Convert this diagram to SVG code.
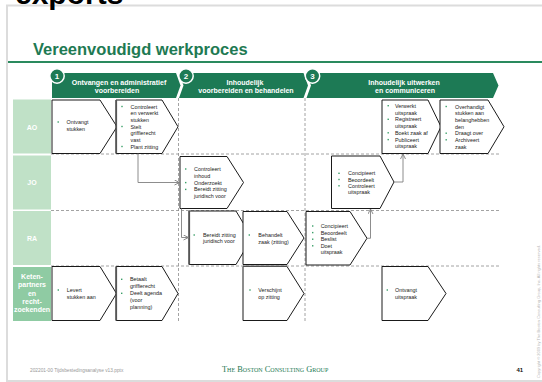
<svg xmlns="http://www.w3.org/2000/svg" width="542" height="382" viewBox="0 0 542 382">
<style>
.box{fill:#fff;stroke:#1a1a1a;stroke-width:1}
.t{font-family:"Liberation Sans",Arial,sans-serif;font-size:5.4px;fill:#222}
.b{fill:#3a9f68}
.hdr{fill:#1d7a55}
.ht{font-family:"Liberation Sans",Arial,sans-serif;font-size:7px;font-weight:bold;fill:#fff;text-anchor:middle}
.lbl{fill:#c0e1c7}
.lt{font-family:"Liberation Sans",Arial,sans-serif;font-size:7px;font-weight:bold;fill:#fff;text-anchor:middle}
.dash{stroke:#8c8c8c;stroke-width:0.8;stroke-dasharray:3 2;fill:none}
.conn{stroke:#808080;stroke-width:0.9;fill:none;marker-end:url(#arr)}
.num{font-family:"Liberation Sans",Arial,sans-serif;font-size:8px;font-weight:bold;fill:#fff;text-anchor:middle}
</style>
<defs>
<marker id="arr" markerUnits="userSpaceOnUse" markerWidth="7" markerHeight="7" refX="5.5" refY="3" orient="auto">
<path d="M0.5,0.5 L5.5,3 L0.5,5.5" fill="none" stroke="#808080" stroke-width="0.9"/>
</marker>
</defs>
<rect width="542" height="382" fill="#fff"/>
<!-- slide frame -->
<path d="M7,382 V5.5 H542 M7,381 H542" fill="none" stroke="#dcdcdc" stroke-width="2"/>
<text x="15" y="4" font-family="Liberation Sans,Arial,sans-serif" font-size="30" font-weight="bold" fill="#000">exports</text>
<text x="33" y="55" font-family="Liberation Sans,Arial,sans-serif" font-size="16.5" font-weight="bold" fill="#1e7a53">Vereenvoudigd werkproces</text>
<rect x="8" y="61" width="534" height="2" fill="#2a8a5e"/>

<!-- lane labels -->
<g id="lane-ao"><rect class="lbl" x="13" y="99.5" width="38" height="54"/><text class="lt" x="32" y="129.5">AO</text></g>
<g id="lane-jo"><rect class="lbl" x="13" y="155.5" width="38" height="54"/><text class="lt" x="32" y="185">JO</text></g>
<g id="lane-ra"><rect class="lbl" x="13" y="211" width="38" height="54"/><text class="lt" x="32" y="240.5">RA</text></g>
<g id="lane-keten"><rect x="13" y="267" width="38" height="54" fill="#8fcba3"/>
<text class="lt"><tspan x="32" y="279">Keten-</tspan><tspan x="32" y="287.3">partners</tspan><tspan x="32" y="295.6">en</tspan><tspan x="32" y="303.9">recht-</tspan><tspan x="32" y="312.2">zoekenden</tspan></text></g>

<!-- grid -->
<g id="grid">
<path class="dash" d="M51,154 H500 M51,210.5 H500 M51,266 H500"/>
<path class="dash" d="M178.5,98 V322 M305,98 V322"/>
</g>

<!-- AO row -->
<g id="a1"><polygon class="box" points="52,100 100,100 117,126.75 100,153.5 52,153.5"/>
<rect class="b" x="57.5" y="121.3" width="1.4" height="1.4"/>
<text class="t"><tspan x="66.5" y="124">Ontvangt</tspan><tspan x="66.5" y="131">stukken</tspan></text></g>
<g id="a2"><polygon class="box" points="116,100 162,100 178,126.75 162,153.5 116,153.5"/>
<path d="M116.3,100 V153.5" stroke="#555" stroke-width="1.6"/>
<rect class="b" x="121.3" y="105.8" width="1.4" height="1.4"/><rect class="b" x="121.3" y="125.8" width="1.4" height="1.4"/><rect class="b" x="121.3" y="145.8" width="1.4" height="1.4"/>
<text class="t"><tspan x="130.5" y="108.5">Controleert</tspan><tspan x="130.5" y="115.2">en verwerkt</tspan><tspan x="130.5" y="121.8">stukken</tspan><tspan x="130.5" y="128.5">Stelt</tspan><tspan x="130.5" y="135.2">griffierecht</tspan><tspan x="130.5" y="141.8">vast</tspan><tspan x="130.5" y="148.5">Plant zitting</tspan></text></g>
<g id="a3"><polygon class="box" points="382,100 428,100 441,126.75 428,153.5 382,153.5"/>
<rect class="b" x="387.5" y="105" width="1.4" height="1.4"/><rect class="b" x="387.5" y="118.6" width="1.4" height="1.4"/><rect class="b" x="387.5" y="132.1" width="1.4" height="1.4"/><rect class="b" x="387.5" y="138.9" width="1.4" height="1.4"/>
<text class="t"><tspan x="395" y="107.7">Verwerkt</tspan><tspan x="395" y="114.5">uitspraak</tspan><tspan x="395" y="121.3">Registreert</tspan><tspan x="395" y="128">uitspraak</tspan><tspan x="395" y="134.8">Boekt zaak af</tspan><tspan x="395" y="141.6">Publiceert</tspan><tspan x="395" y="148.4">uitspraak</tspan></text></g>
<g id="a4"><polygon class="box" points="440,100 488,100 504,126.75 488,153.5 440,153.5"/>
<rect class="b" x="445.5" y="105.8" width="1.4" height="1.4"/><rect class="b" x="445.5" y="132.5" width="1.4" height="1.4"/><rect class="b" x="445.5" y="139.1" width="1.4" height="1.4"/>
<text class="t"><tspan x="455" y="108.5">Overhandigt</tspan><tspan x="455" y="115.2">stukken aan</tspan><tspan x="455" y="121.8">belanghebben</tspan><tspan x="455" y="128.5">den</tspan><tspan x="455" y="135.2">Draagt over</tspan><tspan x="455" y="141.8">Archiveert</tspan><tspan x="455" y="148.5">zaak</tspan></text></g>

<!-- JO row -->
<g id="j1"><polygon class="box" points="180,156.5 227,156.5 243.5,182.5 227,208.5 180,208.5"/>
<rect class="b" x="185" y="168.3" width="1.4" height="1.4"/><rect class="b" x="185" y="181.9" width="1.4" height="1.4"/><rect class="b" x="185" y="188.7" width="1.4" height="1.4"/>
<text class="t"><tspan x="194" y="171">Controleert</tspan><tspan x="194" y="177.8">inhoud</tspan><tspan x="194" y="184.6">Onderzoekt</tspan><tspan x="194" y="191.4">Bereidt zitting</tspan><tspan x="194" y="198.2">juridisch voor</tspan></text></g>
<g id="j2"><polygon class="box" points="331.5,156 380,156 394,182 380,208.5 331.5,208.5"/>
<rect class="b" x="338.3" y="172.6" width="1.4" height="1.4"/><rect class="b" x="338.3" y="178.8" width="1.4" height="1.4"/><rect class="b" x="338.3" y="185.1" width="1.4" height="1.4"/>
<text class="t"><tspan x="348" y="175.3">Concipieert</tspan><tspan x="348" y="181.5">Beoordeelt</tspan><tspan x="348" y="187.8">Controleert</tspan><tspan x="348" y="194.3">uitspraak</tspan></text></g>

<!-- RA row -->
<g id="r1"><polygon class="box" points="189,211 236,211 252,237.75 236,264.5 189,264.5"/>
<path d="M189.3,211 V264.5" stroke="#555" stroke-width="1.6"/>
<rect class="b" x="193.5" y="234.3" width="1.4" height="1.4"/>
<text class="t"><tspan x="203" y="237">Bereidt zitting</tspan><tspan x="203" y="243">juridisch voor</tspan></text></g>
<g id="r2"><polygon class="box" points="243,211.5 287,211.5 304,238 287,264.5 243,264.5"/>
<rect class="b" x="248.6" y="234.3" width="1.4" height="1.4"/>
<text class="t"><tspan x="258.3" y="237">Behandelt</tspan><tspan x="258.3" y="243.5">zaak (zitting)</tspan></text></g>
<g id="r3"><polygon class="box" points="306,211.5 350,211.5 367,238.25 350,265 306,265"/>
<rect class="b" x="312" y="225.3" width="1.4" height="1.4"/><rect class="b" x="312" y="231.9" width="1.4" height="1.4"/><rect class="b" x="312" y="238.5" width="1.4" height="1.4"/><rect class="b" x="312" y="245.1" width="1.4" height="1.4"/>
<text class="t"><tspan x="320.7" y="228">Concipieert</tspan><tspan x="320.7" y="234.6">Beoordeelt</tspan><tspan x="320.7" y="241.2">Beslist</tspan><tspan x="320.7" y="247.8">Doet</tspan><tspan x="320.7" y="254.4">uitspraak</tspan></text></g>

<!-- Keten row -->
<g id="k1"><polygon class="box" points="52,266.5 100,266.5 116.5,293.5 100,320.5 52,320.5"/>
<rect class="b" x="57.6" y="289.3" width="1.4" height="1.4"/>
<text class="t"><tspan x="66.7" y="292">Levert</tspan><tspan x="66.7" y="299">stukken aan</tspan></text></g>
<g id="k2"><polygon class="box" points="116,266.5 162,266.5 178,293.5 162,320.5 116,320.5"/>
<path d="M116.3,266.5 V320.5" stroke="#555" stroke-width="1.6"/>
<rect class="b" x="121" y="278.6" width="1.4" height="1.4"/><rect class="b" x="121" y="292.6" width="1.4" height="1.4"/>
<text class="t"><tspan x="130" y="281.3">Betaalt</tspan><tspan x="130" y="288.3">griffierecht</tspan><tspan x="130" y="295.3">Deelt agenda</tspan><tspan x="130" y="302.3">(voor</tspan><tspan x="130" y="309.3">planning)</tspan></text></g>
<g id="k3"><polygon class="box" points="243,266.5 287,266.5 304,293.5 287,320.5 243,320.5"/>
<path d="M243,266.3 H287" stroke="#555" stroke-width="1.6"/>
<rect class="b" x="249.3" y="289.3" width="1.4" height="1.4"/>
<text class="t"><tspan x="258.3" y="292">Verschijnt</tspan><tspan x="258.3" y="299">op zitting</tspan></text></g>
<g id="k4"><polygon class="box" points="382,266.5 428,266.5 446,293.5 428,320.5 382,320.5"/>
<rect class="b" x="386.6" y="289.3" width="1.4" height="1.4"/>
<text class="t"><tspan x="395" y="292">Ontvangt</tspan><tspan x="395" y="299">uitspraak</tspan></text></g>

<!-- connectors -->
<g id="connectors">
<path class="conn" d="M138,153.5 V182.5 H179.5"/>
<path class="conn" d="M181.5,208.5 V237.5 H188.5"/>
<path class="conn" d="M367,238.25 H370.5 V209"/>
<path class="conn" d="M394,182 H403 V154"/>
</g>

<!-- phase headers -->
<g id="phase1">
<polygon class="hdr" points="52,73 176,73 180.5,85.5 176,98 52,98"/>
<circle cx="57" cy="76" r="7.2" fill="#1d7a55" stroke="#fff" stroke-width="1.5"/>
<text class="num" x="57" y="79">1</text>
<text class="ht"><tspan x="119" y="84.5">Ontvangen  en administratief</tspan><tspan x="117" y="93">voorbereiden</tspan></text>
</g>
<g id="phase2">
<polygon class="hdr" points="179,73 303.5,73 308,85.5 303.5,98 179,98 183.5,85.5"/>
<circle cx="186" cy="76" r="7.2" fill="#1d7a55" stroke="#fff" stroke-width="1.5"/>
<text class="num" x="186" y="79">2</text>
<text class="ht"><tspan x="245" y="84.5">Inhoudelijk</tspan><tspan x="246" y="93">voorbereiden en behandelen</tspan></text>
</g>
<g id="phase3">
<polygon class="hdr" points="306.5,73 493,73 498.5,85.5 493,98 306.5,98 311,85.5"/>
<circle cx="312.5" cy="76" r="7.2" fill="#1d7a55" stroke="#fff" stroke-width="1.5"/>
<text class="num" x="312.5" y="79">3</text>
<text class="ht"><tspan x="404" y="84.5">Inhoudelijk uitwerken</tspan><tspan x="405" y="93">en communiceren</tspan></text>
</g>

<!-- footer -->
<text x="30" y="371.5" font-family="Liberation Sans,Arial,sans-serif" font-size="4.8" fill="#999">202201-00 Tijdsbestedingsanalyse v13.pptx</text>
<text x="222" y="371.5" font-family="Liberation Serif,Times New Roman,serif" font-size="8.4" font-variant="small-caps" fill="#1e7a53">The Boston Consulting Group</text>
<text x="516.5" y="372" font-family="Liberation Sans,Arial,sans-serif" font-size="6" font-weight="bold" fill="#111">41</text>
<text transform="translate(539.5,378) rotate(-90)" font-family="Liberation Sans,Arial,sans-serif" font-size="4" fill="#b5b5b5">Copyright © 2009 by The Boston Consulting Group, Inc. All rights reserved.</text>
</svg>
